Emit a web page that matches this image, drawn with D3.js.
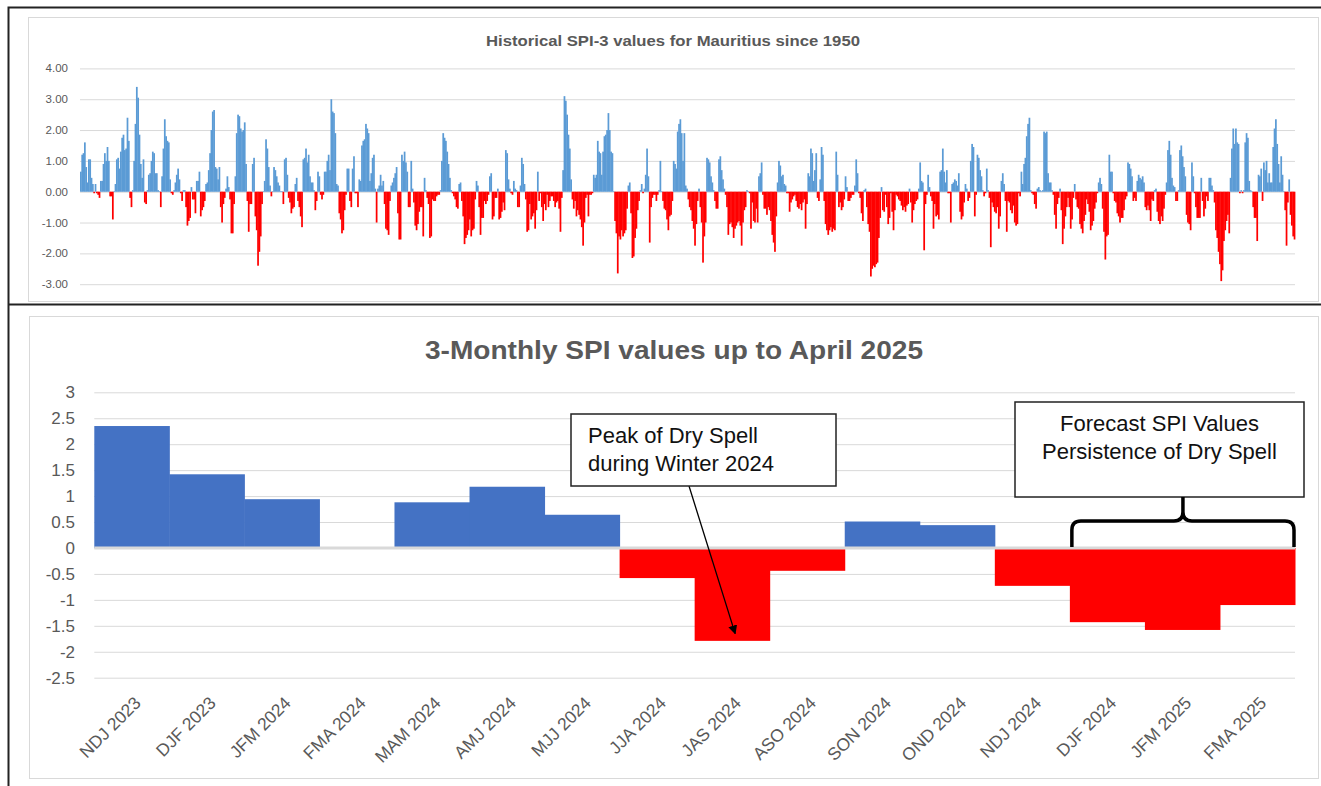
<!DOCTYPE html>
<html>
<head>
<meta charset="utf-8">
<script src="https://cdn.jsdelivr.net/npm/d3@7"></script>
<style>
  body { margin: 0; background: #fff; }
  svg { display: block; font-family: "Liberation Sans", Arial, sans-serif; }
</style>
</head>
<body>
<svg width="1321" height="786"></svg>
<script>
// ---- data: historical SPI-3 (monthly, by decade) ----
var spi1950s = [0.65,1.2,1.25,1.6,0.8,0.3,1.05,1.05,0.45,0.25,-0.05,0.25,-0.05,-0.1,-0.2,0.35,0.35,0.9,1.25,1.0,
  1.45,1.0,-0.15,-0.15,-0.9,0.02,0.25,1.05,1.1,0.75,1.3,1.75,1.85,1.35,1.4,2.4,1.65,-0.2,-0.5,0.05,
  1.0,2.2,3.4,3.05,1.85,0.9,0.45,1.05,-0.35,-0.4,0.05,0.55,0.6,1.0,1.3,1.25,0.6,0.6,0.05,0.02,
  -0.5,0.5,1.4,2.35,1.8,1.65,1.6,0.4,-0.05,-0.1,0.05,0.3,0.55,0.75,0.4,-0.05,-0.3,0.05,0.05,-0.5,
  -1.1,-0.95,-0.85,0.15,-0.25,-0.25,-0.7,0.35,0.35,0.65,-0.8,-0.6,-0.5,-0.3,0.25,0.3,0.7,1.25,2.0,2.6,
  2.65,0.8,0.75,0.4,0.8,-0.5,-1.0,-0.4,-0.2,0.1,0.5,0.15,-0.25,-1.35,-1.35,-0.4,0.5,1.9,2.5,2.45,2.05];
var spi1960s = [1.95,2.0,2.25,0.9,-0.3,-1.3,-0.4,-0.4,0.9,1.1,-0.8,-1.25,-2.4,-1.95,-1.45,-0.4,0.02,0.35,1.7,1.4,
  0.8,0.2,-0.15,0.02,0.8,0.7,0.5,0.3,0.2,0.02,0.02,-0.4,1.05,1.1,0.55,-0.2,-0.35,-0.7,-0.55,-0.5,
  0.25,0.45,-0.3,-0.5,-0.8,-1.15,1.05,1.1,1.4,0.95,1.2,0.5,0.3,0.3,0.05,-0.6,-0.3,0.65,0.5,-0.1,
  -0.25,-0.1,0.65,0.65,1.0,1.2,0.7,3.0,2.6,2.55,1.9,0.25,0.2,-0.7,-0.9,-1.35,-1.25,-0.6,-0.1,0.75,
  0.75,-0.3,-0.5,0.75,1.15,-0.05,-0.05,-0.5,0.4,0.35,1.5,1.65,1.7,2.2,2.05,1.9,0.35,0.6,1.1,1.2,
  0.1,-1.0,0.1,0.2,0.55,0.2,0.35,-0.4,-1.2,-1.25,-1.4,-0.3,0.2,0.3,0.45,0.6,0.8,-0.7,-1.55,-1.55,1.2];
var spi1970s = [1.0,1.3,0.95,0.65,-0.5,-0.5,1.0,0.1,-0.35,-1.1,-1.25,-1.05,-0.65,-0.5,-0.5,-1.45,0.45,0.05,-0.2,-0.4,
  -1.5,-1.45,-0.25,-0.3,-0.3,-0.15,-0.1,-0.1,0.05,1.0,1.9,1.75,1.65,1.3,0.9,0.45,0.05,-0.05,-0.15,-0.25,
  -0.5,-0.55,0.25,0.3,-0.3,-0.8,-1.7,-1.5,-1.4,-1.25,-0.9,-1.45,-1.25,-1.2,-0.25,0.35,0.2,-0.5,-1.4,-0.85,
  -0.85,-0.3,-0.4,-0.3,-0.1,0.5,0.6,-0.9,-0.8,-0.2,-0.2,0.1,-0.9,-0.85,-0.65,-0.35,-0.6,1.35,1.25,0.4,
  0.1,-0.05,-0.1,0.35,0.1,0.05,-0.5,-0.5,0.2,1.1,0.9,0.25,-0.25,-1.3,-1.25,-0.4,-0.9,-0.8,-0.7,-1.2,
  -0.6,0.65,-0.3,-0.05,-0.5,-0.95,-0.4,-0.6,-0.1,-0.5,-0.3,-0.15,-0.15,-0.3,-0.5,-0.35,-0.3,-0.55,-1.3,-0.2,0.7];
var spi1980s = [3.1,2.95,2.5,1.85,1.4,0.4,-0.25,-0.55,-0.3,-0.8,-0.6,-0.75,-0.9,-1.15,-1.75,-1.0,-0.2,-0.1,-0.8,-0.1,
  -0.1,-0.05,0.55,0.45,0.55,1.65,1.3,1.25,0.55,1.3,1.8,1.85,2.0,2.55,2.0,1.3,1.25,0.02,-0.95,-1.35,
  -2.65,-1.45,-1.55,-1.25,-1.45,-1.35,-1.25,-0.55,0.2,0.3,-0.7,-2.15,-2.1,-1.5,-1.2,-0.6,-0.3,0.05,0.25,-0.05,
  0.1,0.55,1.4,0.5,-1.65,-0.5,-0.2,-0.1,-0.1,-0.3,-0.1,0.05,1.0,0.02,-0.3,-0.55,-0.6,-0.9,-1.25,-0.8,
  -0.75,-0.3,1.0,0.9,0.75,1.95,2.2,2.35,1.9,1.0,1.9,0.2,0.1,-0.25,-0.5,-0.6,-0.95,-1.2,-1.75,-1.05,
  -0.3,0.1,-0.5,-1.0,-2.3,-1.45,-1.0,1.1,1.05,0.95,0.5,0.3,0.05,-0.3,-0.55,-0.55,1.05,1.15,0.7,0.4,0.1];
var spi1990s = [-0.1,-0.5,-1.4,-1.05,-1.0,-1.15,-1.5,-1.2,-1.1,-1.0,-0.95,-1.1,-1.75,-1.0,-0.6,-0.5,0.05,0.02,-0.05,-1.2,
  -0.35,-0.95,-1.0,-0.55,-1.0,0.5,0.6,0.95,-0.1,-0.55,-0.55,-0.75,-0.5,-0.6,-0.95,-1.4,-1.65,-1.95,-0.8,0.3,
  1.0,0.85,0.5,0.55,0.25,0.2,-0.05,-0.05,-0.65,-0.35,-0.25,-0.15,-0.1,-0.3,-0.5,-0.55,-0.4,-0.6,-0.35,-0.25,
  -1.2,-0.4,0.6,0.5,1.4,1.25,0.35,0.7,1.25,-0.2,-0.3,0.4,1.45,1.2,-0.3,-1.05,-1.25,-1.4,-1.25,-1.15,
  -1.3,-1.2,-1.25,1.3,0.55,-0.5,-0.35,-0.6,-0.5,-0.25,0.5,0.15,-0.3,-0.3,-0.2,-0.1,-0.1,0.2,1.05,0.6,
  -0.05,-0.2,-0.7,-0.95,0.05,0.1,-0.5,-1.05,-1.3,-2.75,-2.5,-2.4,-2.45,-2.35,-2.3,-1.5,-0.85,0.15,-0.6,-0.65,-0.1];
var spi2000s = [-0.5,-1.05,-0.85,-0.05,-0.65,-1.25,-0.6,-0.1,-0.15,-0.25,-0.3,-0.45,-0.6,-0.5,-0.65,-0.45,-0.4,0.1,-0.35,-1.0,
  -0.6,-0.4,-0.3,-0.25,0.1,0.95,0.35,0.3,-1.9,-0.4,-0.1,0.55,0.15,-0.15,-0.3,-1.2,-0.4,-0.8,-0.75,-0.9,
  0.65,0.7,1.4,0.65,0.3,0.7,-0.05,-0.05,-1.0,0.25,0.3,0.4,0.35,0.2,0.6,-0.65,-0.9,-0.8,-0.35,0.25,
  0.1,-0.3,-0.2,1.0,1.55,1.45,-0.8,-0.1,1.2,1.1,0.7,0.5,0.05,-0.15,-0.05,0.75,0.05,-0.2,-1.8,-0.35,
  -0.5,-0.65,-0.7,-0.5,-1.2,-0.8,0.35,0.6,0.25,-0.3,-1.3,-0.3,-0.35,-0.6,-0.7,-0.45,-1.0,-1.1,-1.05,-0.05,
  -0.15,0.65,0.25,0.9,1.1,1.8,2.2,2.4,0.05,-0.05,-0.1,-0.4,-0.55,0.1,0.15,0.05,0.02,0.05,1.95,1.9];
var spi2010s = [1.95,0.6,0.3,0.3,0.05,-0.1,-0.75,-1.2,-0.4,-0.2,0.1,-0.6,-1.7,-1.2,-0.8,-0.5,-0.2,-0.5,-1.2,-0.9,
  -0.2,0.25,-0.25,-0.5,-0.55,-1.05,-1.2,-1.35,-0.95,-0.75,-0.25,-0.4,-0.65,-1.25,-1.1,-0.95,-0.55,-0.35,-0.05,0.3,
  0.45,0.25,-0.55,-1.3,-2.2,-1.45,-1.4,1.2,0.65,0.65,-0.05,-0.3,-0.35,-0.7,-0.8,-1.0,-0.85,-0.85,-0.6,-0.25,
  -0.15,0.95,0.9,0.75,0.5,-0.3,-0.2,-0.3,0.35,0.55,0.45,0.4,0.5,0.3,-0.5,-0.6,-0.45,-0.6,-0.95,-0.25,
  -0.3,0.05,0.1,-0.65,-0.95,-1.05,-0.8,-0.95,-0.55,-0.1,0.3,1.35,1.65,1.2,0.45,0.2,0.15,-0.3,-0.3,0.05,
  1.35,1.5,1.15,0.8,0.5,-0.75,-1.0,-1.05,-1.25,0.95,0.5,-0.05,-0.5,-0.85,-0.85,-0.85,0.45,-0.3,-0.8,-0.55,-0.15];
var spi2020s = [-0.3,0.45,0.45,0.2,0.05,-0.35,-1.25,-1.5,-1.95,-2.35,-2.9,-2.55,-1.6,-1.25,-0.95,-0.75,-1.35,0.45,1.4,2.05,
  1.55,2.05,1.6,1.55,-0.05,0.05,-0.05,0.05,1.6,1.9,1.75,0.35,0.05,0.02,-0.5,-0.85,-0.85,-1.6,0.55,0.5,
  0.75,-0.3,0.95,0.7,1.0,0.3,0.6,0.3,0.3,1.45,2.05,2.35,1.55,0.9,0.3,1.15,0.55,0.02,-0.6,-1.75,
  -0.35,0.4,-0.75,-1.1,-1.45,-1.55];
var histTicks = [4, 3, 2, 1, 0, -1, -2, -3];

// ---- data: 3-monthly SPI up to April 2025 ----
var seasons = ["NDJ 2023","DJF 2023","JFM 2024","FMA 2024","MAM 2024","AMJ 2024","MJJ 2024","JJA 2024",
  "JAS 2024","ASO 2024","SON 2024","OND 2024","NDJ 2024","DJF 2024","JFM 2025","FMA 2025"];
var spiValues = [2.35, 1.42, 0.94, 0, 0.88, 1.18, 0.64, -0.58, -1.79, -0.44, 0.51, 0.44, -0.73, -1.43, -1.58, -1.1];
var seasonTicks = [3, 2.5, 2, 1.5, 1, 0.5, 0, -0.5, -1, -1.5, -2, -2.5];

var svg = d3.select("svg");
var grey = "#595959", gridCol = "#d9d9d9";

// frames
svg.append("rect").attr("x", 28.5).attr("y", 17.5).attr("width", 1290).attr("height", 284)
  .attr("fill", "#fff").attr("stroke", gridCol);
svg.append("rect").attr("x", 29.5).attr("y", 316.5).attr("width", 1289).attr("height", 462)
  .attr("fill", "#fff").attr("stroke", gridCol);
svg.append("path").attr("d", "M1321,7.5H8.5V786M8,304.5H1321")
  .attr("fill", "none").attr("stroke", "#222").attr("stroke-width", 2);

// ================= top chart =================
var historical = [].concat(spi1950s, spi1960s, spi1970s, spi1980s, spi1990s, spi2000s, spi2010s, spi2020s);

var xH = d3.scaleBand().domain(d3.range(historical.length)).range([80, 1295]).padding(0);
var yH = d3.scaleLinear().domain([-3, 4]).range([284.2, 68.4]);

var histChart = svg.append("g");
histChart.append("g")
  .attr("transform", "translate(80,0)")
  .call(d3.axisLeft(yH).tickValues(histTicks).tickSize(-1215).tickFormat(""))
  .call(g => g.select(".domain").remove())
  .call(g => g.selectAll("line").attr("stroke", gridCol));

histChart.append("g").selectAll("text")
  .data(histTicks).enter().append("text")
  .attr("x", 68).attr("y", d => yH(d)).attr("dy", "0.35em")
  .attr("text-anchor", "end").attr("font-size", 11.5).attr("fill", grey)
  .text(d => d.toFixed(2));

histChart.append("g").selectAll("rect")
  .data(historical).enter().append("rect")
  .attr("x", (d, i) => xH(i))
  .attr("width", xH.bandwidth() + 0.4)
  .attr("y", d => yH(Math.max(0, d)))
  .attr("height", d => Math.abs(yH(d) - yH(0)))
  .attr("fill", d => d >= 0 ? "#5B9BD5" : "#FF0000");

histChart.append("text")
  .attr("x", 673).attr("y", 46).attr("text-anchor", "middle")
  .attr("font-size", 15).attr("font-weight", "bold").attr("fill", grey)
  .attr("textLength", 374).attr("lengthAdjust", "spacingAndGlyphs")
  .text("Historical SPI-3 values for Mauritius since 1950");

// ================= bottom chart =================
var x = d3.scaleBand().domain(seasons).range([94.3, 1295]).padding(0);
var y = d3.scaleLinear().domain([-2.5, 3]).range([677.7, 392.3]);

var seasonChart = svg.append("g");
seasonChart.append("g")
  .attr("transform", "translate(94.3,0)")
  .call(d3.axisLeft(y).tickValues(seasonTicks).tickSize(-1200.7).tickFormat(""))
  .call(g => g.select(".domain").remove())
  .call(g => g.selectAll("line").attr("stroke", gridCol));

seasonChart.append("g").selectAll("text")
  .data(seasonTicks).enter().append("text")
  .attr("x", 75).attr("y", d => y(d)).attr("dy", "0.35em")
  .attr("text-anchor", "end").attr("font-size", 17).attr("fill", grey)
  .text(d => String(d));

seasonChart.append("g").selectAll("rect")
  .data(spiValues).enter().append("rect")
  .attr("x", (d, i) => x(seasons[i]))
  .attr("width", x.bandwidth() + 0.5)
  .attr("y", d => y(Math.max(0, d)))
  .attr("height", d => Math.abs(y(d) - y(0)))
  .attr("fill", d => d >= 0 ? "#4472C4" : "#FF0000");

// zero axis line
seasonChart.append("line")
  .attr("x1", 94.3).attr("x2", 1295).attr("y1", y(0)).attr("y2", y(0))
  .attr("stroke", gridCol).attr("stroke-width", 3);

// rotated category labels
seasonChart.append("g").selectAll("text")
  .data(seasons).enter().append("text")
  .attr("transform", d => "translate(" + (x(d) + x.bandwidth() / 2 + 10) + ",704) rotate(-45)")
  .attr("text-anchor", "end").attr("font-size", 17.5).attr("fill", grey)
  .text(d => d);

seasonChart.append("text")
  .attr("x", 674).attr("y", 359).attr("text-anchor", "middle")
  .attr("font-size", 26).attr("font-weight", "bold").attr("fill", grey)
  .attr("textLength", 498).attr("lengthAdjust", "spacingAndGlyphs")
  .text("3-Monthly SPI values up to April 2025");

// ---- annotations ----
svg.append("defs").append("marker")
  .attr("id", "arrow").attr("viewBox", "0 0 10 10").attr("refX", 9).attr("refY", 5)
  .attr("markerWidth", 7).attr("markerHeight", 7).attr("orient", "auto-start-reverse")
  .append("path").attr("d", "M0,0L10,5L0,10z").attr("fill", "#000");

var jas = x("JAS 2024") + x.bandwidth() / 2;
seasonChart.append("line")
  .attr("x1", 689).attr("y1", 486)
  .attr("x2", jas + 3).attr("y2", y(-1.65))
  .attr("stroke", "#000").attr("stroke-width", 1.3)
  .attr("marker-end", "url(#arrow)");

seasonChart.append("rect").attr("x", 571).attr("y", 414).attr("width", 265).attr("height", 72)
  .attr("fill", "#fff").attr("stroke", "#222").attr("stroke-width", 1.5);
seasonChart.append("text").attr("x", 588).attr("y", 443).attr("font-size", 22).attr("fill", "#111")
  .text("Peak of Dry Spell");
seasonChart.append("text").attr("x", 588).attr("y", 471).attr("font-size", 22).attr("fill", "#111")
  .text("during Winter 2024");

seasonChart.append("rect").attr("x", 1015).attr("y", 402).attr("width", 289).attr("height", 95)
  .attr("fill", "#fff").attr("stroke", "#222").attr("stroke-width", 1.5);
seasonChart.append("text").attr("x", 1159.5).attr("y", 431).attr("text-anchor", "middle")
  .attr("font-size", 22).attr("fill", "#111").text("Forecast SPI Values");
seasonChart.append("text").attr("x", 1159.5).attr("y", 459).attr("text-anchor", "middle")
  .attr("font-size", 22).attr("fill", "#111").text("Persistence of Dry Spell");

// curly brace over the forecast seasons
var bx0 = x("DJF 2024") + 2, bx1 = x("FMA 2025") + x.bandwidth() - 1;
var bm = (bx0 + bx1) / 2, by = 521, yb = y(0) - 1;
seasonChart.append("path")
  .attr("d", "M" + bx0 + "," + yb + "V" + (by + 9) + "Q" + bx0 + "," + by + " " + (bx0 + 9) + "," + by +
    "H" + (bm - 9) + "Q" + bm + "," + by + " " + bm + "," + (by - 9) + "V497" +
    "M" + bm + "," + (by - 9) + "Q" + bm + "," + by + " " + (bm + 9) + "," + by +
    "H" + (bx1 - 9) + "Q" + bx1 + "," + by + " " + bx1 + "," + (by + 9) + "V" + yb)
  .attr("fill", "none").attr("stroke", "#000").attr("stroke-width", 3.5);
</script>
</body>
</html>
